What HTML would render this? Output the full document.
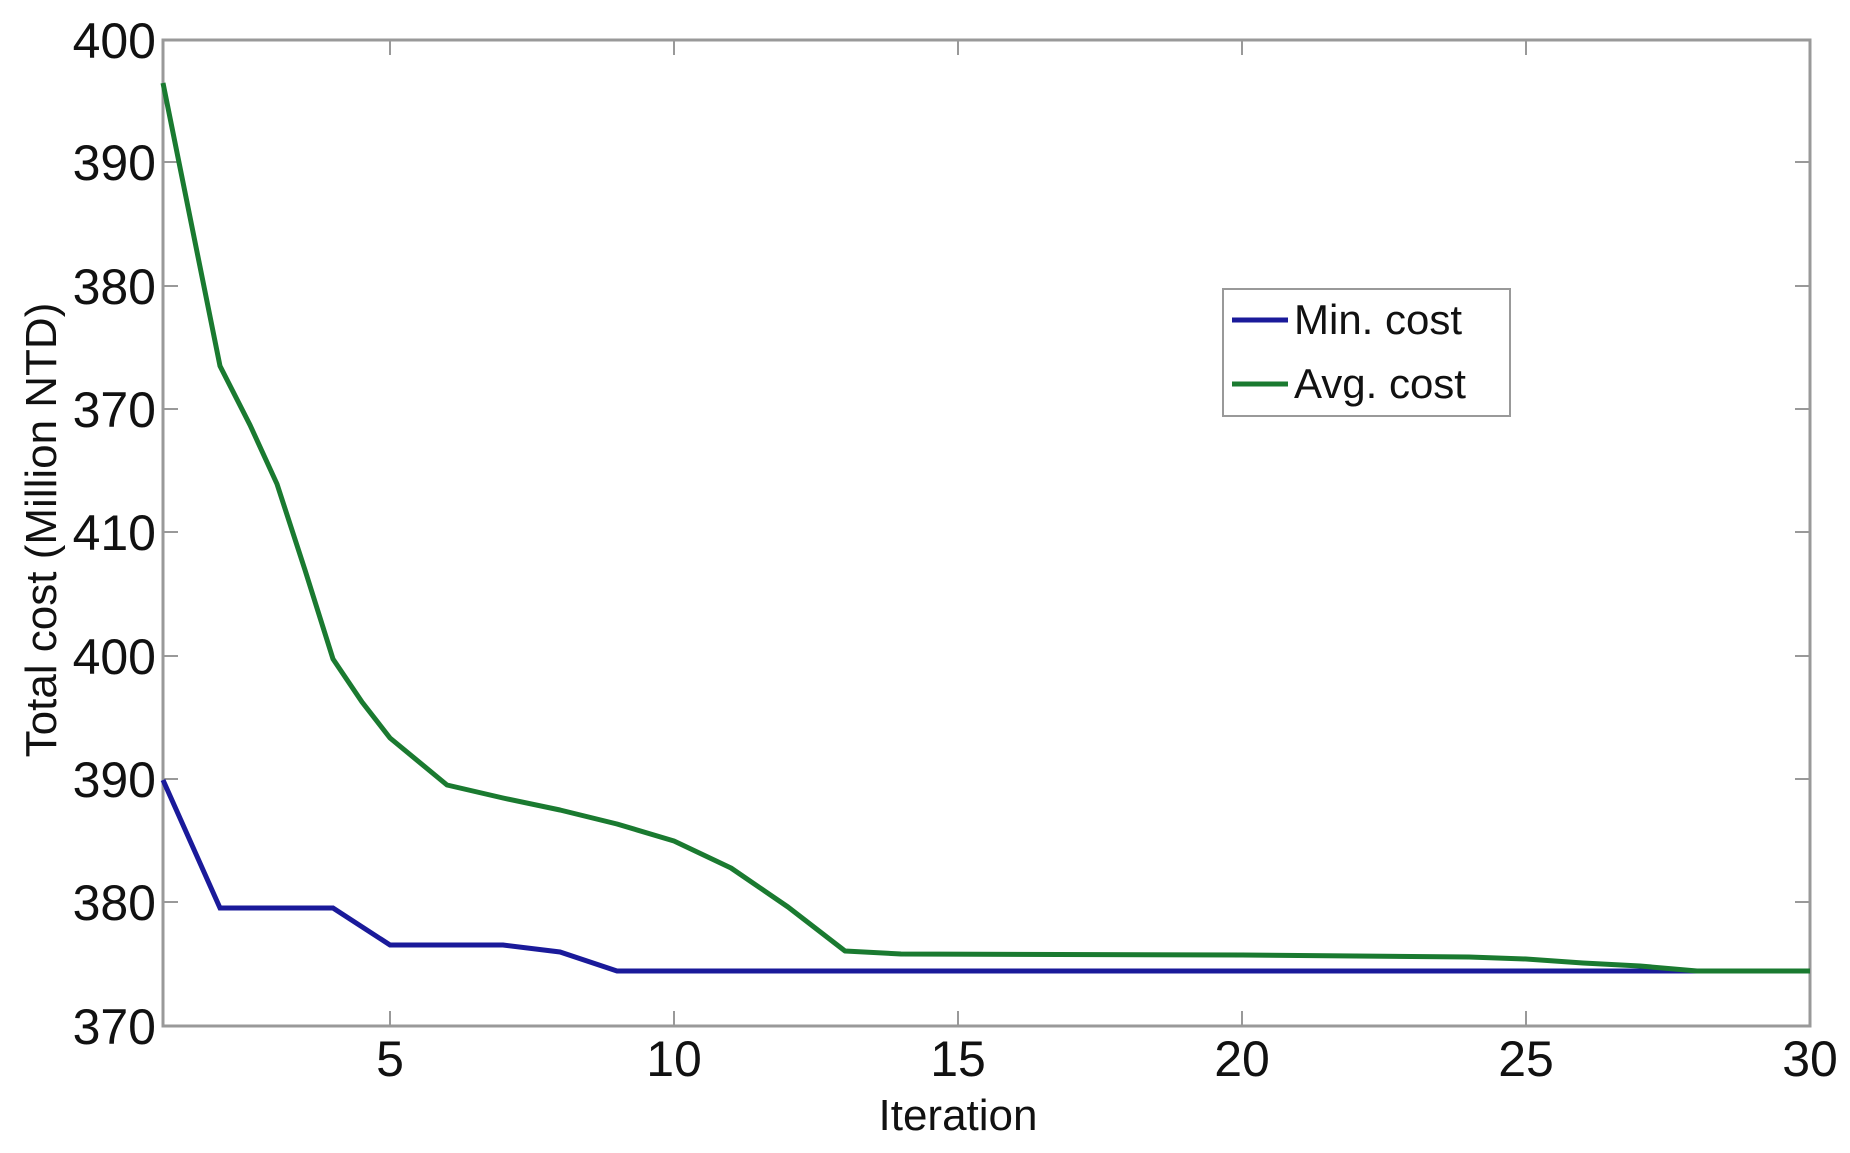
<!DOCTYPE html>
<html><head><style>body{margin:0;background:#fff}</style></head><body>
<svg width="1850" height="1148" xmlns="http://www.w3.org/2000/svg" font-family="Liberation Sans, sans-serif">
<rect width="1850" height="1148" fill="#fff"/>
<rect x="163" y="40" width="1647" height="986" fill="none" stroke="#999" stroke-width="3"/>
<g stroke="#999" stroke-width="2">
<line x1="163" y1="162" x2="178" y2="162"/><line x1="163" y1="286" x2="178" y2="286"/><line x1="163" y1="409" x2="178" y2="409"/><line x1="163" y1="532" x2="178" y2="532"/><line x1="163" y1="656" x2="178" y2="656"/><line x1="163" y1="779" x2="178" y2="779"/><line x1="163" y1="902" x2="178" y2="902"/>
<line x1="1810" y1="162" x2="1795" y2="162"/><line x1="1810" y1="286" x2="1795" y2="286"/><line x1="1810" y1="409" x2="1795" y2="409"/><line x1="1810" y1="532" x2="1795" y2="532"/><line x1="1810" y1="656" x2="1795" y2="656"/><line x1="1810" y1="779" x2="1795" y2="779"/><line x1="1810" y1="902" x2="1795" y2="902"/>
<line x1="390" y1="1026" x2="390" y2="1011"/><line x1="674" y1="1026" x2="674" y2="1011"/><line x1="958" y1="1026" x2="958" y2="1011"/><line x1="1242" y1="1026" x2="1242" y2="1011"/><line x1="1526" y1="1026" x2="1526" y2="1011"/>
<line x1="390" y1="40" x2="390" y2="55"/><line x1="674" y1="40" x2="674" y2="55"/><line x1="958" y1="40" x2="958" y2="55"/><line x1="1242" y1="40" x2="1242" y2="55"/><line x1="1526" y1="40" x2="1526" y2="55"/>
</g>
<g font-size="50" text-anchor="end" fill="#111">
<text x="156" y="58">400</text><text x="156" y="180">390</text><text x="156" y="304">380</text><text x="156" y="427">370</text><text x="156" y="550">410</text><text x="156" y="674">400</text><text x="156" y="797">390</text><text x="156" y="920">380</text><text x="156" y="1044">370</text>
</g>
<g font-size="50" text-anchor="middle" fill="#111">
<text x="390" y="1076">5</text><text x="674" y="1076">10</text><text x="958" y="1076">15</text><text x="1242" y="1076">20</text><text x="1526" y="1076">25</text><text x="1810" y="1076">30</text>
<text x="958" y="1130" font-size="44">Iteration</text>
<text transform="translate(56,530) rotate(-90)" font-size="44">Total cost (Million NTD)</text>
</g>
<polyline fill="none" stroke="#1a1a9a" stroke-width="5" points="163,780 220,908 333,908 390,945 503,945 560,952 617,971 1810,971"/>
<polyline fill="none" stroke="#1a7a30" stroke-width="5" stroke-linejoin="round" points="163,83 220,366 250,425 277,484 305,570 333,659 362,702 390,738 447,785 503,798 560,810 617,824 674,841 731,868 788,907 845,951 901,954 1242,955 1469,957 1526,959 1583,963 1640,966 1697,971 1810,971"/>
<rect x="1223" y="289" width="287" height="127" fill="#fff" stroke="#999" stroke-width="2"/>
<line x1="1232" y1="320" x2="1288" y2="320" stroke="#1a1a9a" stroke-width="5"/>
<line x1="1232" y1="384" x2="1288" y2="384" stroke="#1a7a30" stroke-width="5"/>
<g font-size="42" fill="#111"><text x="1294" y="334">Min. cost</text><text x="1294" y="398">Avg. cost</text></g>
</svg>
</body></html>
